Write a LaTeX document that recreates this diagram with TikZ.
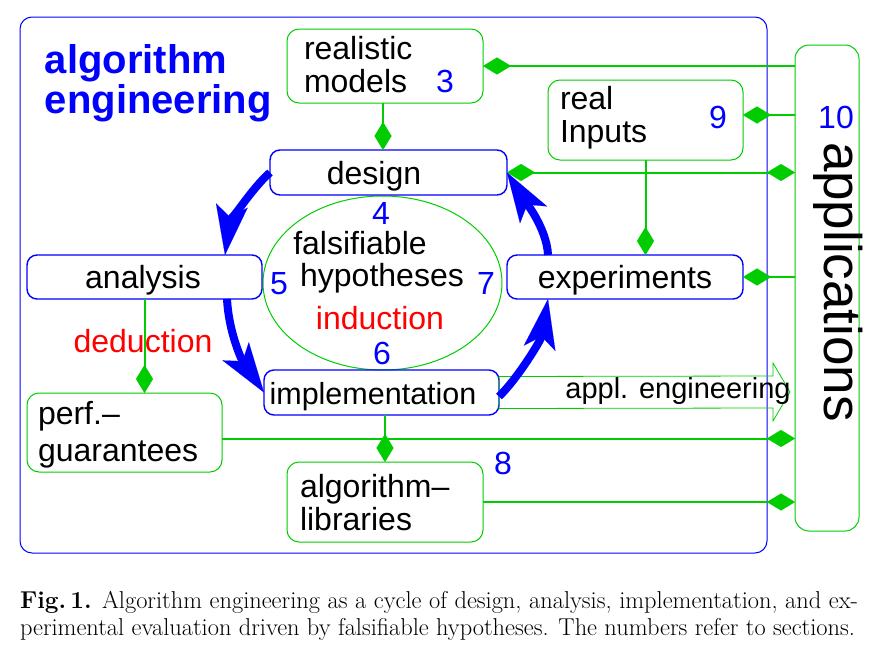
\documentclass[tikz,border=0pt]{standalone}
\usepackage{fontspec}
\newfontfamily\hv{Liberation Sans}
\usetikzlibrary{arrows.meta,shapes.geometric,calc}
\definecolor{gr}{RGB}{0,204,0}
\definecolor{bl}{RGB}{0,0,255}
\definecolor{rd}{RGB}{255,0,0}
\begin{document}
\begin{tikzpicture}[x=1pt,y=-1pt,
  every node/.style={inner sep=0pt,outer sep=0pt},
  gbox/.style={draw=gr,line width=1pt,rounded corners=12pt},
  bbox/.style={draw=bl,line width=1.4pt,rounded corners=10pt},
  lbl/.style={font=\hv\fontsize{32}{33}\selectfont,anchor=base west},
  clbl/.style={font=\hv\fontsize{32}{33}\selectfont,anchor=base},
  num/.style={font=\hv\fontsize{32}{33}\selectfont,anchor=base,text=bl},
  gline/.style={draw=gr,line width=2pt},
  dtip/.style={-{Diamond[length=28pt,width=17pt,line width=0.1pt]}},
  dtips/.style={{Diamond[length=28pt,width=17pt,line width=0.1pt]}-{Diamond[length=28pt,width=17pt,line width=0.1pt]}},
  barrow/.style={draw=bl,line width=8pt,-{Stealth[length=50pt,width=32pt,inset=12pt,line width=0.1pt]}},
  captext/.style={anchor=base west,font=\fontsize{24.4}{27}\selectfont}
]
\useasboundingbox (0,0) rectangle (871,648);
% frame
\node[draw=bl,line width=1pt,rounded corners=12pt,minimum width=747pt,minimum height=536pt] (frame) at (393.5,285) {};
% applications
\node[gbox,rounded corners=14pt,minimum width=64pt,minimum height=486pt] (apps) at (827,288) {};
\node[rotate=-90,anchor=mid,font=\hv\fontsize{53}{53}\selectfont] (appstxt) at (827,282) {applications};
\node[num] (n10) at (836,128) {10};
% title
\node[anchor=base west,font=\hv\bfseries\fontsize{40}{40}\selectfont,text=bl] (t1) at (45,73) {algorithm};
\node[anchor=base west,font=\hv\bfseries\fontsize{40}{40}\selectfont,text=bl] (t2) at (45,113) {engineering};
% green boxes
\node[gbox,minimum width=196pt,minimum height=74pt] (models) at (385,66) {};
\node[lbl] (models1) at (304,59) {realistic};
\node[lbl] (models2) at (304,92) {models};
\node[num] (n3) at (445,92) {3};
\node[gbox,minimum width=195pt,minimum height=80pt] (inputs) at (645.5,120) {};
\node[lbl] (inputs1) at (560,109) {real};
\node[lbl] (inputs2) at (560,142) {Inputs};
\node[num] (n9) at (718,128) {9};
\node[gbox,minimum width=195pt,minimum height=79pt] (perf) at (124.5,432.5) {};
\node[lbl] (perf1) at (38,424) {perf.\textendash};
\node[lbl] (perf2) at (38,461) {guarantees};
\node[gbox,minimum width=196pt,minimum height=80pt] (libs) at (385,502) {};
\node[lbl] (libs1) at (300,497) {algorithm\textendash};
\node[lbl] (libs2) at (300,530) {libraries};
% ellipse
\node[draw=gr,line width=1pt,ellipse,minimum width=239pt,minimum height=174pt] (hyp) at (382.5,283) {};
% blue boxes
\node[bbox,minimum width=237pt,minimum height=45pt] (design) at (388.5,172.5) {};
\node[clbl] (designt) at (374,184) {design};
\node[bbox,minimum width=235pt,minimum height=44pt] (analysis) at (144.5,277) {};
\node[clbl] (analysist) at (143,288) {analysis};
\node[bbox,minimum width=236pt,minimum height=44pt] (exp) at (625,277) {};
\node[clbl] (expt) at (625,288) {experiments};
\node[bbox,minimum width=235pt,minimum height=45pt] (impl) at (381.5,392.5) {};
\node[clbl,font=\hv\fontsize{30.5}{32}\selectfont] (implt) at (373,404) {implementation};
% texts in the cycle
\node[clbl] (fals) at (360,254) {falsifiable};
\node[clbl] (hypo) at (382,286) {hypotheses};
\node[clbl,text=rd] (ind) at (380,329) {induction};
\node[clbl,text=rd] (ded) at (143,352) {deduction};
\node[num] (n4) at (381,224) {4};
\node[num] (n6) at (382,364) {6};
\node[num] (n5) at (279,294) {5};
\node[num] (n7) at (486,294) {7};
\node[num] (n8) at (503,474) {8};
% appl. engineering arrow
\coordinate (ae0) at ([yshift=16pt]impl.east);
\draw[draw=gr,line width=0.8pt] (ae0) -- (773,376) -- (773,363) -- (790,392) -- (773,421) -- (773,408) -- ([yshift=-16pt]impl.east) -- cycle;
\node[clbl,font=\hv\fontsize{29}{30}\selectfont] (aet) at (678,398) {appl. engineering};
% green connectors
\draw[gline,dtip] (models.east -| apps.west) -- (models.east);
\coordinate (in1) at ([yshift=5pt]inputs.east);
\draw[gline,dtip] (in1 -| apps.west) -- (in1);
\draw[gline,dtips] (design.east) -- (design.east -| apps.west);
\draw[gline,dtip] (exp.east -| apps.west) -- (exp.east);
\draw[gline,dtip] ([xshift=-2pt]models.south) -- ([xshift=-2pt]models.south |- design.north);
\draw[gline,dtip] (inputs.south) -- (inputs.south |- exp.north);
\draw[gline,dtip] (analysis.south) -- (analysis.south |- perf.north);
\draw[gline,dtip] (libs.north |- impl.south) -- (libs.north);
\coordinate (pf1) at ([yshift=-6pt]perf.east);
\draw[gline,dtip] (pf1) -- (pf1 -| apps.west);
\draw[gline,dtip] (libs.east) -- (libs.east -| apps.west);
% blue cycle arrows
\draw[barrow] (design.west) .. controls (250,190) and (229,226) .. ([xshift=-37pt]analysis.north east);
\draw[barrow] ([xshift=-35pt]analysis.south east) .. controls (229,335) and (243,362) .. (impl.west);
\draw[barrow] ([yshift=-4pt]impl.east) .. controls (518,378) and (541,340) .. ([xshift=-77pt]exp.south);
\draw[barrow] ([xshift=-77pt]exp.north) .. controls (547,228) and (523,198) .. (design.east);
% caption
\node[captext] (cap1) at (20,608) {\hbox to 838pt{\textbf{Fig.\,1.} Algorithm engineering as a cycle of design, analysis, implementation, and ex-}};
\node[captext] (cap2) at (20,635) {perimental evaluation driven by falsifiable hypotheses. The numbers refer to sections.};
\end{tikzpicture}
\end{document}
